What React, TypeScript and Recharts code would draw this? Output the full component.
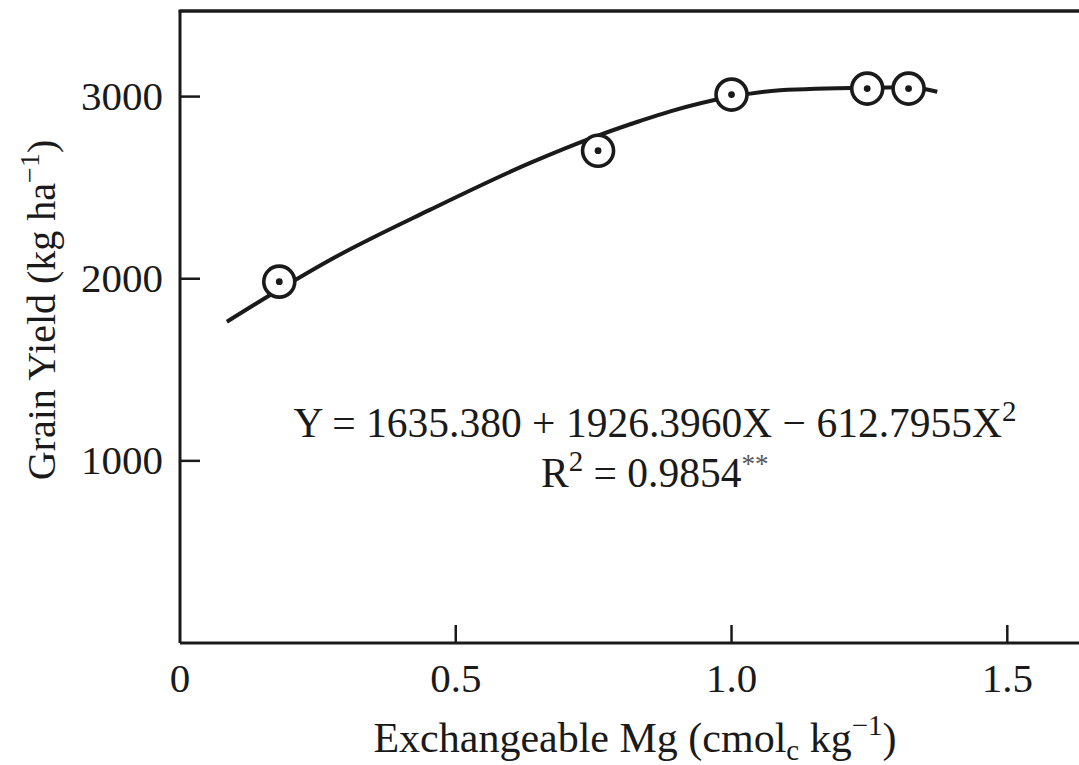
import React from "react";
import { ComposedChart, Line, Scatter, XAxis, YAxis } from "recharts";

// fitted curve
const curveX = [0.085, 0.18, 0.272, 0.453, 0.635, 0.758, 0.834, 0.889, 0.999, 1.088, 1.246, 1.321, 1.373];
const curveY = [1764, 1941, 2103, 2378, 2636, 2786, 2866, 2919, 2999, 3035, 3049, 3051, 3027];

// observed yields
const pointX = [0.18, 0.758, 1.0, 1.246, 1.321];
const pointY = [1984, 2703, 3011, 3044, 3044];

const xTicks = [0, 0.5, 1.0, 1.5];
const yTicks = [1000, 2000, 3000];
const X_MAX = 1.63;
const Y_MAX = 3470;

const curveData = curveX.map((x, i) => ({ x, y: curveY[i] }));
const pointData = pointX.map((x, i) => ({ x, y: pointY[i] }));

const FONT = "'Liberation Serif', 'DejaVu Serif', serif";
const INK = "#1a1a1a";
const X_GAP = 24;
const Y_GAP = 17;

const W = 1079;
const H = 765;
const MARGIN = { top: 9, right: 0, bottom: 92, left: 120 };
const TOP_AXIS_H = 2;
const X_AXIS_H = 30;
const Y_AXIS_W = 60;
// plot box, same numbers the chart uses for its layout
const LEFT = MARGIN.left + Y_AXIS_W;
const TOP = MARGIN.top + TOP_AXIS_H;
const BOTTOM = H - MARGIN.bottom - X_AXIS_H;
const sx = (v: number) => LEFT + (v / X_MAX) * (W - MARGIN.right - LEFT);
const sy = (v: number) => BOTTOM - (v / Y_MAX) * (BOTTOM - TOP);

function Ring(props: any) {
  const { cx, cy } = props;
  return (
    <g>
      <circle cx={cx} cy={cy} r={15.5} fill="#fff" stroke={INK} strokeWidth={3.6} />
      <circle cx={cx} cy={cy} r={3.4} fill={INK} />
    </g>
  );
}

function XTick(props: any) {
  const { x, y, payload } = props;
  const v = payload.value as number;
  return (
    <text x={x} y={y + 25} textAnchor="middle" fontFamily={FONT} fontSize={41} fill={INK}>
      {v === 0 ? "0" : v.toFixed(1)}
    </text>
  );
}

function YTick(props: any) {
  const { x, y, payload } = props;
  return (
    <text x={x} y={y + 13} textAnchor="end" fontFamily={FONT} fontSize={41} fill={INK}>
      {payload.value}
    </text>
  );
}

// frame top, inward tick marks, axis titles and the regression note
function Overlay() {
  return (
    <svg width={W} height={H} style={{ position: "absolute", left: 0, top: 0, pointerEvents: "none" }}>
      <line x1={LEFT - 1.5} x2={W} y1={TOP} y2={TOP} stroke={INK} strokeWidth={3} />
      {xTicks
        .filter((t) => t !== 0)
        .map((t) => (
          <line key={t} x1={sx(t)} x2={sx(t)} y1={BOTTOM} y2={BOTTOM - 18} stroke={INK} strokeWidth={2.5} />
        ))}
      {yTicks.map((t) => (
        <line key={t} x1={LEFT} x2={LEFT + 20} y1={sy(t)} y2={sy(t)} stroke={INK} strokeWidth={2.5} />
      ))}

      <text x={655} y={437} textAnchor="middle" fontFamily={FONT} fontSize={41.5} fill={INK}>
        Y = 1635.380 + 1926.3960X − 612.7955X
        <tspan dy={-16} fontSize={29}>2</tspan>
      </text>
      <text x={541} y={487} fontFamily={FONT} fontSize={41.5} fill={INK}>
        R<tspan dy={-16} fontSize={29}>2</tspan>
        <tspan dy={16}> = 0.9854</tspan>
        <tspan dy={-14} fontSize={27} fill="#555">**</tspan>
      </text>
      <text
        transform="translate(55,310) rotate(-90)"
        textAnchor="middle"
        fontFamily={FONT}
        fontSize={40}
        fill={INK}
      >
        Grain Yield (kg ha<tspan dy={-16} fontSize={28}>−1</tspan>
        <tspan dy={16}>)</tspan>
      </text>
      <text x={635} y={752} textAnchor="middle" fontFamily={FONT} fontSize={42} fill={INK}>
        Exchangeable Mg (cmol<tspan dy={8} fontSize={29}>c</tspan>
        <tspan dy={-8}> kg</tspan>
        <tspan dy={-17} fontSize={29}>−1</tspan>
        <tspan dy={17}>)</tspan>
      </text>
    </svg>
  );
}

export default function App() {
  return (
    <div style={{ position: "absolute", left: 0, top: 0, width: W, height: H, background: "#fff" }}>
      <ComposedChart width={W} height={H} margin={MARGIN}>
        <XAxis
          xAxisId="top"
          orientation="top"
          type="number"
          dataKey="x"
          domain={[0, X_MAX]}
          height={TOP_AXIS_H}
          tick={false}
          axisLine={{ stroke: INK, strokeWidth: 3 }}
        />
        <XAxis
          type="number"
          dataKey="x"
          domain={[0, X_MAX]}
          ticks={xTicks}
          height={X_AXIS_H}
          tickSize={0}
          tickMargin={X_GAP}
          tickLine={false}
          tick={<XTick />}
          axisLine={{ stroke: INK, strokeWidth: 3 }}
        />
        <YAxis
          type="number"
          domain={[0, Y_MAX]}
          ticks={yTicks}
          width={Y_AXIS_W}
          tickSize={0}
          tickMargin={Y_GAP}
          tickLine={false}
          tick={<YTick />}
          axisLine={{ stroke: INK, strokeWidth: 3 }}
        />
        <Line
          data={curveData}
          dataKey="y"
          type="monotone"
          stroke={INK}
          strokeWidth={4}
          dot={false}
          isAnimationActive={false}
        />
        <Scatter data={pointData} dataKey="y" shape={Ring} isAnimationActive={false} />
      </ComposedChart>
      <Overlay />
    </div>
  );
}
